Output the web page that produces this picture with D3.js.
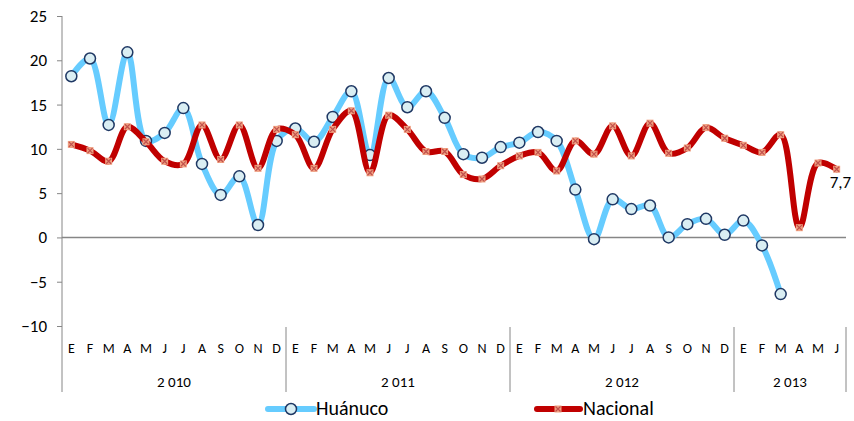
<!DOCTYPE html>
<html>
<head>
<meta charset="utf-8">
<script src="https://cdn.jsdelivr.net/npm/d3@7"></script>
<style>
  body { margin: 0; background: #fff; }
  svg text { font-family: Carlito, Calibri, Lato, sans-serif; fill: #000; }
</style>
</head>
<body>
<div id="chart"></div>
<script>
// DATA
const years = ["2 010", "2 011", "2 012", "2 013"];
const monthsPerYear = [12, 12, 12, 6];
const monthLetters = ["E", "F", "M", "A", "M", "J", "J", "A", "S", "O", "N", "D"];
const yTicks = [-10, -5, 0, 5, 10, 15, 20, 25];

const huanuco = [
  18.2, 20.2, 12.7, 20.9, 10.9, 11.8, 14.6, 8.3, 4.8, 6.9, 1.4, 10.9,
  12.3, 10.8, 13.6, 16.5, 9.3, 18.0, 14.7, 16.5, 13.5, 9.4, 9.0, 10.2,
  10.7, 11.9, 10.9, 5.4, -0.2, 4.3, 3.2, 3.6, 0.0, 1.5, 2.1, 0.3,
  1.9, -0.9, -6.4
];
const nacional = [
  10.5, 9.8, 8.6, 12.5, 10.8, 8.6, 8.3, 12.7, 8.8, 12.7, 7.8, 12.2,
  11.6, 7.8, 12.2, 14.3, 7.3, 13.8, 12.2, 9.7, 9.7, 7.1, 6.6, 8.1,
  9.2, 9.6, 7.5, 10.9, 9.4, 12.6, 9.2, 12.9, 9.5, 10.1, 12.4, 11.2,
  10.4, 9.6, 11.6, 1.1, 8.4, 7.7
];
const lastLabel = "7,7";

// SETUP
const W = 854, H = 421;
const margin = { top: 16, left: 62, right: 8 };
const plotBottom = 326;

// build month categories
const months = [];
years.forEach((y, yi) => {
  for (let m = 0; m < monthsPerYear[yi]; m++) months.push({ key: yi + "-" + m, letter: monthLetters[m], year: yi });
});

const svg = d3.select("#chart").append("svg")
  .attr("width", W).attr("height", H);

const x = d3.scaleBand()
  .domain(months.map(d => d.key))
  .range([margin.left, W - margin.right]);

const y = d3.scaleLinear()
  .domain([-10, 25])
  .range([plotBottom, margin.top]);

const axisColor = "#868686";

// Y axis
const yAxis = svg.append("g")
  .attr("transform", `translate(${margin.left},0)`)
  .call(d3.axisLeft(y).tickValues(yTicks).tickSize(5).tickPadding(4).tickFormat(d3.format("d")));
yAxis.select(".domain").remove();
yAxis.selectAll(".tick line").attr("stroke", axisColor);
yAxis.selectAll(".tick text").attr("font-size", 17).attr("dx", -6);

// left axis line extends through the category labels
svg.append("line")
  .attr("x1", margin.left).attr("x2", margin.left)
  .attr("y1", margin.top).attr("y2", 392)
  .attr("stroke", axisColor).attr("stroke-width", 1);

// zero line
svg.append("line")
  .attr("x1", margin.left).attr("x2", W - margin.right)
  .attr("y1", y(0)).attr("y2", y(0))
  .attr("stroke", axisColor).attr("stroke-width", 1.5);

// year separators
let start = 0;
const yearBounds = monthsPerYear.map(n => { const b = { s: start, e: start + n }; start += n; return b; });
yearBounds.forEach(b => {
  const xe = x(months[b.e - 1].key) + x.bandwidth();
  svg.append("line")
    .attr("x1", xe).attr("x2", xe)
    .attr("y1", plotBottom + 1).attr("y2", 392)
    .attr("stroke", axisColor).attr("stroke-width", 1);
});

// month letters
svg.append("g").selectAll("text")
  .data(months).join("text")
  .attr("x", d => x(d.key) + x.bandwidth() / 2)
  .attr("y", 353)
  .attr("text-anchor", "middle")
  .attr("font-size", 14)
  .text(d => d.letter);

// year labels
svg.append("g").selectAll("text")
  .data(yearBounds).join("text")
  .attr("x", (b, i) => (x(months[b.s].key) + x(months[b.e - 1].key) + x.bandwidth()) / 2)
  .attr("y", 387)
  .attr("text-anchor", "middle")
  .attr("font-size", 15)
  .text((b, i) => years[i]);

// LINES
const cx = i => x(months[i].key) + x.bandwidth() / 2;
const line = d3.line()
  .x((d, i) => cx(i))
  .y(d => y(d))
  .curve(d3.curveCatmullRom.alpha(0.5));

const blue = "#66CCFF", red = "#C00000";

svg.append("path").datum(huanuco)
  .attr("d", line).attr("fill", "none")
  .attr("stroke", blue).attr("stroke-width", 6)
  .attr("stroke-linejoin", "round").attr("stroke-linecap", "round");

svg.append("g").selectAll("circle")
  .data(huanuco).join("circle")
  .attr("cx", (d, i) => cx(i)).attr("cy", d => y(d))
  .attr("r", 5.5)
  .attr("fill", "#DAEEF3").attr("stroke", "#1F3864").attr("stroke-width", 1.5);

svg.append("path").datum(nacional)
  .attr("d", line).attr("fill", "none")
  .attr("stroke", red).attr("stroke-width", 6)
  .attr("stroke-linejoin", "round").attr("stroke-linecap", "round");

function crossMarker(g, px, py) {
  g.append("rect")
    .attr("x", px - 3.5).attr("y", py - 3.5)
    .attr("width", 7).attr("height", 7)
    .attr("fill", "#F0A080");
  g.append("path")
    .attr("d", `M${px - 2.5},${py - 2.5}L${px + 2.5},${py + 2.5}M${px + 2.5},${py - 2.5}L${px - 2.5},${py + 2.5}`)
    .attr("stroke", "#C0504D").attr("stroke-width", 1.2);
}
const nm = svg.append("g");
nacional.forEach((d, i) => crossMarker(nm, cx(i), y(d)));

// last value label
svg.append("text")
  .attr("x", cx(nacional.length - 1) - 7)
  .attr("y", y(nacional[nacional.length - 1]) + 19)
  .attr("font-size", 17)
  .text(lastLabel);

// LEGEND
const legY = 409;
const lg = svg.append("g");
lg.append("line").attr("x1", 268).attr("x2", 314).attr("y1", legY).attr("y2", legY)
  .attr("stroke", blue).attr("stroke-width", 6).attr("stroke-linecap", "round");
lg.append("circle").attr("cx", 291).attr("cy", legY).attr("r", 5.5)
  .attr("fill", "#DAEEF3").attr("stroke", "#1F3864").attr("stroke-width", 1.5);
lg.append("text").attr("x", 316).attr("y", legY + 6).attr("font-size", 20).text("Huánuco");

lg.append("line").attr("x1", 537).attr("x2", 580).attr("y1", legY).attr("y2", legY)
  .attr("stroke", red).attr("stroke-width", 6).attr("stroke-linecap", "round");
crossMarker(lg, 558, legY);
lg.append("text").attr("x", 583).attr("y", legY + 6).attr("font-size", 20).text("Nacional");
</script>
</body>
</html>
